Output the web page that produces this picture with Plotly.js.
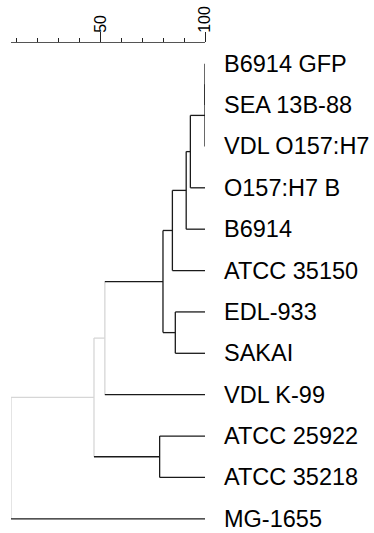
<!DOCTYPE html>
<html>
<head>
<meta charset="utf-8">
<script src="https://cdn.plot.ly/plotly-3.0.1.min.js"></script>
<style>html,body{margin:0;padding:0;background:#fff;}#chart{width:374px;height:533px;}</style>
</head>
<body>
<div id="chart"></div>
<script>
// Leaves (top to bottom)
var leaves = ['B6914 GFP','SEA 13B-88','VDL O157:H7','O157:H7 B','B6914','ATCC 35150','EDL-933','SAKAI','VDL K-99','ATCC 25922','ATCC 35218','MG-1655'];
// Merges: node ids 0..11 are leaves, new nodes numbered 12, 13, ...
var mergeLeft   = [0,   12,  13,   14,   15,   6,    16,   9,    18,   20,   21];
var mergeRight  = [1,   2,   3,    4,    5,    7,    17,   10,   8,    19,   11];
var mergeHeight = [100, 100, 93.0, 91.0, 84.4, 85.8, 79.9, 78.3, 52.1, 46.9, 7.2];
var tickVals = [50, 100];
var tickText = ['50', '100'];
var grayBelow = 60;

var nLeaf = leaves.length;
var xs = {}, ys = {};
for (var i = 0; i < nLeaf; i++) { xs[i] = 100; ys[i] = i; }
var traces = [];
var dark = '#1a1a1a', light = '#d6d6d6';
function isGray(id) { return id >= nLeaf && xs[id] < grayBelow; }
for (var k = 0; k < mergeHeight.length; k++) {
  var id = nLeaf + k, a = mergeLeft[k], b = mergeRight[k], h = mergeHeight[k];
  xs[id] = h; ys[id] = (ys[a] + ys[b]) / 2;
}
for (var k = 0; k < mergeHeight.length; k++) {
  var id = nLeaf + k, a = mergeLeft[k], b = mergeRight[k], h = mergeHeight[k];
  traces.push({x:[h,h], y:[ys[a], ys[b]], mode:'lines', line:{color: h < grayBelow ? light : dark, width:1.3}, hoverinfo:'skip'});
  [a,b].forEach(function(c){
    traces.push({x:[h, xs[c]], y:[ys[c], ys[c]], mode:'lines', line:{color: isGray(c) ? light : dark, width:1.3}, hoverinfo:'skip'});
  });
}
var annotations = leaves.map(function(name, i){
  return {x:100, y:i, xref:'x', yref:'y', text:name, showarrow:false, xanchor:'left', yanchor:'middle', xshift:18, yshift:0,
          borderpad:0, font:{family:'Liberation Sans, Arial, sans-serif', size:23.5, color:'#000'}};
});
var layout = {
  width:374, height:533,
  margin:{l:10.7, r:168.5, t:43, b:8, pad:0},
  paper_bgcolor:'#fff', plot_bgcolor:'#fff',
  showlegend:false,
  xaxis:{range:[7.2, 100], side:'top', showline:true, linecolor:'#555', linewidth:1, showgrid:false, zeroline:false,
         tickmode:'array', tickvals:tickVals, ticktext:tickText, ticks:'outside', ticklen:10, tickwidth:1, tickcolor:'#222',
         ticklabelstandoff:-4,
         tickangle:-90, tickfont:{family:'Liberation Sans, Arial, sans-serif', size:16, color:'#000'},
         minor:{dtick:10, tick0:0, ticks:'outside', ticklen:4, tickwidth:1, tickcolor:'#222'}, fixedrange:true},
  yaxis:{range:[11.15, -0.5], visible:false, showgrid:false, zeroline:false, fixedrange:true},
  annotations: annotations
};
Plotly.newPlot('chart', traces, layout, {displayModeBar:false, staticPlot:true});
</script>
</body>
</html>
